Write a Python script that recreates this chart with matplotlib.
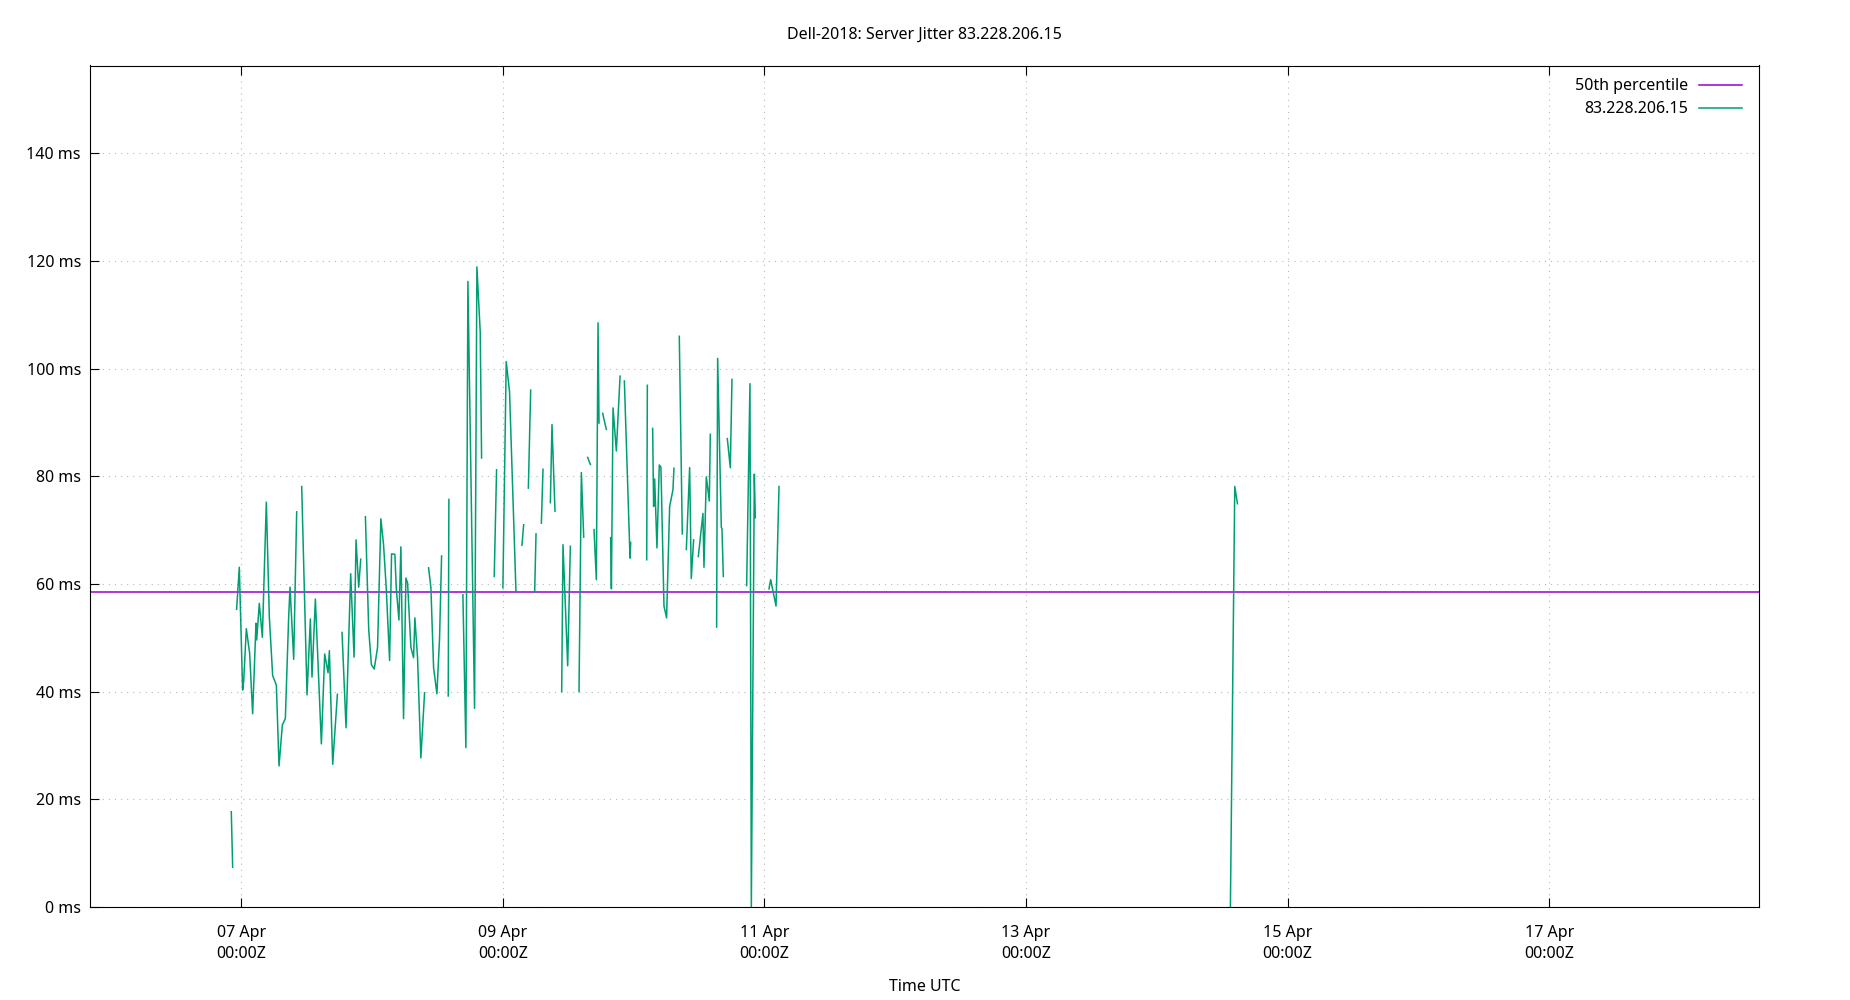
import numpy as np
import pandas as pd
import matplotlib
matplotlib.use('Agg')
import matplotlib.pyplot as plt
import matplotlib.dates as mdates

plt.rcParams['font.family'] = ['Noto Sans', 'DejaVu Sans']

# hours after 07 Apr 00:00Z, NaN marks a break in the series
hours = [-1.84, -1.59, np.nan,
         -0.86, -0.37, 0.24, 0.43, 0.92, 1.53, 2.08, 2.69, 2.82, 3.30, 3.86, 4.59,
         5.14, 5.75, 6.43, 6.92, 7.53, 8.08, 8.69, 8.94, 9.61, 10.16, np.nan,
         11.08, 12.06,
         12.67, 12.97, 13.59, 14.69, 15.30, 15.91, 16.16, 16.77, 17.63, np.nan,
         18.48, 19.22, 20.07, 20.69, 21.05, 21.54, 21.91, np.nan,
         22.77, 23.38, 23.87, 24.39, 25.00, 25.61, 26.10, 26.59, 27.21, 27.57, 28.18,
         28.43, 28.92, 29.28, 29.77, 30.20, 30.51, 31.12, 31.61, 31.85, 32.34, 32.95,
         33.63, np.nan,
         34.36, 34.79, 35.28, 35.89, 36.38, 36.75, np.nan,
         37.97, 38.09, np.nan,
         40.66, 41.21, 41.58, 42.80, 43.23, 43.84, 44.09, np.nan,
         46.41, 46.84, np.nan,
         48.00, 48.61, 49.22, 50.40, np.nan,
         51.50, 51.81, np.nan,
         52.67, 53.10, np.nan,
         53.83, 54.08, np.nan,
         55.06, 55.36, np.nan,
         56.71, 57.01, 57.56, np.nan,
         58.79, 59.03, 59.89, 60.38, np.nan,
         61.97, 62.40, 62.83, np.nan,
         63.56, 64.05, np.nan,
         64.72, 65.15, 65.46, 65.64, np.nan,
         66.31, 66.98, np.nan,
         67.78, 67.91, 68.21, 68.82, 69.50, np.nan,
         70.29, 71.33, 71.45, np.nan,
         74.39, 74.51, np.nan,
         75.48, 75.66, 75.85, 76.27, 76.70, 77.00, 77.56, 78.04, 78.60, 79.21, 79.39, np.nan,
         80.37, 80.92, np.nan,
         81.66, 82.27, 82.57, 83.00, np.nan,
         83.86, 84.71, 84.90, 85.33, 85.88, 86.06, np.nan,
         87.22, 87.41, 88.08, 88.20, 88.45, np.nan,
         89.18, 89.73, 90.04, np.nan,
         92.73, 93.34, 93.59, 94.14, 94.32, np.nan,
         96.83, 97.14, 97.63, 98.12, 98.67, np.nan,
         181.5, 182.3, 182.8]

jitter_ms = [17.7, 7.4, np.nan,
             55.3, 63.1, 40.3, 41.9, 51.7, 47.1, 35.9, 52.7, 49.6, 56.4, 50.1, 75.2,
             53.9, 43.0, 41.2, 26.2, 33.8, 35.0, 53.9, 59.4, 46.0, 73.4, np.nan,
             78.1, 39.4,
             53.5, 42.7, 57.2, 30.3, 47.0, 43.5, 47.6, 26.5, 39.5, np.nan,
             51.0, 33.3, 61.9, 46.4, 68.2, 59.4, 64.6, np.nan,
             72.5, 51.5, 45.0, 44.2, 48.2, 72.1, 67.3, 59.3, 45.8, 65.6, 65.5,
             59.3, 53.3, 66.9, 35.0, 61.1, 60.2, 48.2, 46.3, 53.7, 46.3, 27.7,
             39.8, np.nan,
             63.0, 59.3, 44.5, 39.6, 50.0, 65.2, np.nan,
             39.2, 75.7, np.nan,
             58.0, 29.6, 116.2, 36.9, 118.9, 106.8, 83.4, np.nan,
             61.4, 81.2, np.nan,
             59.3, 101.3, 95.7, 58.6, np.nan,
             67.2, 71.0, np.nan,
             77.8, 96.0, np.nan,
             58.5, 69.3, np.nan,
             71.3, 81.3, np.nan,
             75.1, 89.6, 73.5, np.nan,
             40.0, 67.3, 44.8, 67.0, np.nan,
             40.0, 80.7, 68.7, np.nan,
             83.5, 82.2, np.nan,
             70.1, 60.8, 108.5, 89.9, np.nan,
             91.7, 88.7, np.nan,
             68.6, 59.1, 92.7, 84.7, 98.6, np.nan,
             97.7, 64.8, 67.7, np.nan,
             64.5, 96.9, np.nan,
             88.9, 74.4, 79.5, 66.7, 82.1, 81.7, 55.9, 53.7, 74.4, 77.5, 81.5, np.nan,
             106.0, 69.3, np.nan,
             66.4, 81.6, 61.0, 68.2, np.nan,
             65.1, 73.1, 63.1, 79.9, 75.4, 87.8, np.nan,
             52.0, 101.9, 70.5, 70.3, 61.4, np.nan,
             87.0, 81.6, 98.0, np.nan,
             59.7, 97.2, 0.0, 80.4, 72.3, np.nan,
             59.1, 60.8, 58.3, 55.9, 78.1, np.nan,
             0.0, 78.1, 74.9]

median_ms = 58.5
yticks = [0, 20, 40, 60, 80, 100, 120, 140]
xtick_days = ['2024-04-07', '2024-04-09', '2024-04-11', '2024-04-13', '2024-04-15', '2024-04-17']
x_start = '2024-04-05 20:14'
x_end = '2024-04-18 14:30'

base = pd.Timestamp('2024-04-07 00:00')
times = base + pd.to_timedelta(np.nan_to_num(hours), unit='h')
y = np.array(jitter_ms, dtype=float)

fs = 11.5
fig = plt.figure(figsize=(18.5, 10), dpi=100)
ax = fig.add_axes([90/1850, 93/1000, (1759-90)/1850, (907-65.5)/1000])

ax.axhline(median_ms, color='#9400d3', lw=1.1, label='50th percentile')
ax.plot(times, y, color='#009e73', lw=1.1, label='83.228.206.15')

ax.set_xlim(pd.Timestamp(x_start), pd.Timestamp(x_end))
ax.set_ylim(0, 156.3)
ax.set_yticks(yticks)
ax.set_yticklabels([f'{v} ms' for v in yticks])
ax.set_xticks(pd.to_datetime(xtick_days))
ax.xaxis.set_major_formatter(mdates.DateFormatter('%d %b\n%H:%MZ'))

ax.grid(True, color='#b8b8b8', lw=0.8, linestyle=(0, (1, 4.5)))
ax.tick_params(axis='x', direction='in', top=True, length=6.5, width=0.8,
               pad=13, labelsize=fs)
ax.tick_params(axis='y', direction='in', right=False, length=6.5, width=0.8,
               pad=6.5, labelsize=fs)
for lab in ax.get_xticklabels():
    lab.set_linespacing(1.45)
for s in ax.spines.values():
    s.set_linewidth(0.8)

ax.set_xlabel('Time UTC', fontsize=fs, labelpad=12)
ax.set_title('Dell-2018: Server Jitter 83.228.206.15', fontsize=fs, pad=19)

ax.legend(loc='upper right', frameon=False, markerfirst=False, fontsize=fs,
          handlelength=2.7, handletextpad=0.65, labelspacing=0.45,
          borderaxespad=0.5, bbox_to_anchor=(0.9985, 1.002))

plt.savefig('out.png', dpi=100)
